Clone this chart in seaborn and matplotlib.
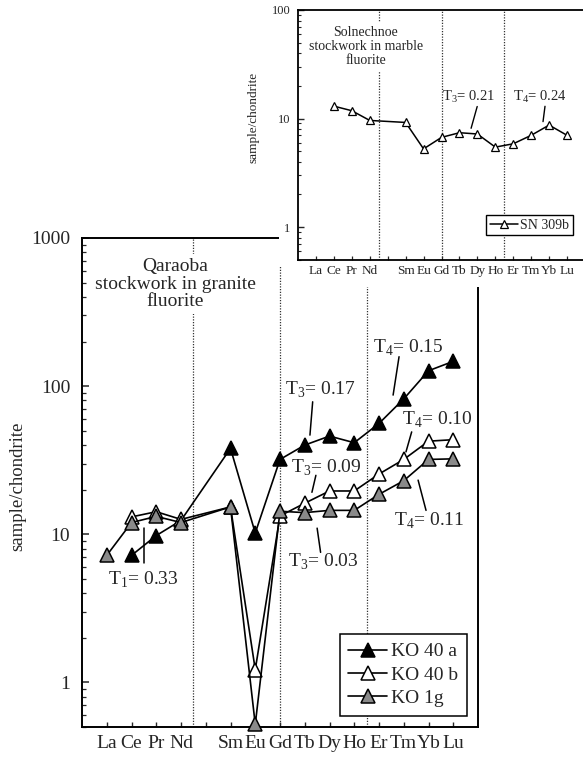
import numpy as np
import pandas as pd
import matplotlib
matplotlib.use("Agg")
import matplotlib.pyplot as plt
import seaborn as sns
from matplotlib.patches import Rectangle

# ---------------- data ----------------
elements = ["La", "Ce", "Pr", "Nd", "Sm", "Eu", "Gd", "Tb", "Dy", "Ho", "Er", "Tm", "Yb", "Lu"]
positions = [1, 2, 3, 4, 6, 7, 8, 9, 10, 11, 12, 13, 14, 15]
tick_positions = list(range(1, 16))
tick_labels = ["La", "Ce", "Pr", "Nd", "", "Sm", "Eu", "Gd", "Tb", "Dy", "Ho", "Er", "Tm", "Yb", "Lu"]

ko40a = [np.nan, 7.2, 9.8, 12.4, 38.0, 10.2, 32.0, 40.0, 46.0, 41.5, 56.0, 82.0, 127.0, 147.0]
ko40b = [np.nan, 13.1, 14.2, 12.6, 15.3, 1.22, 13.3, 16.2, 19.6, 19.6, 25.5, 32.0, 42.5, 43.5]
ko1g = [7.2, 12.0, 13.2, 12.0, 15.3, 0.52, 14.3, 14.0, 14.5, 14.5, 18.6, 23.0, 32.0, 32.3]
sn309b = [np.nan, 13.0, 11.8, 9.6, 9.2, 5.25, 6.7, 7.4, 7.2, 5.45, 5.85, 7.0, 8.7, 7.0]

divider_positions = [4.5, 8, 11.5]

main_series = [
    ("KO 40 a", ko40a, "black"),
    ("KO 40 b", ko40b, "white"),
    ("KO 1g", ko1g, "#8a8a8a"),
]

# annotations: (text, text_x, text_y, line_x0, line_y0, line_x1, line_y1)
main_notes = [
    ("T$_\\mathregular{1}$= 0.33", 2.49, 4.9, 2.5, 11.1, 2.5, 6.4),
    ("T$_\\mathregular{3}$= 0.03", 9.76, 6.5, 9.5, 11.0, 9.64, 7.55),
    ("T$_\\mathregular{4}$= 0.11", 14.02, 12.4, 13.58, 23.2, 13.9, 14.5),
    ("T$_\\mathregular{3}$= 0.09", 9.89, 27.9, 9.45, 25.0, 9.29, 19.2),
    ("T$_\\mathregular{3}$= 0.17", 9.62, 94.0, 9.32, 78.4, 9.21, 46.7),
    ("T$_\\mathregular{4}$= 0.15", 13.17, 181.0, 12.81, 158.0, 12.57, 87.0),
    ("T$_\\mathregular{4}$= 0.10", 14.36, 58.9, 13.32, 49.1, 13.09, 36.0),
]
inset_notes = [
    ("T$_\\mathregular{3}$= 0.21", 9.53, 15.9, 9.99, 12.9, 9.65, 8.13),
    ("T$_\\mathregular{4}$= 0.24", 13.49, 15.9, 13.77, 12.96, 13.66, 9.36),
]

# ---------------- style ----------------
sns.set_style("ticks")
plt.rcParams["font.family"] = ["Liberation Serif", "DejaVu Serif"]
plt.rcParams["mathtext.fontset"] = "custom"
plt.rcParams["mathtext.rm"] = "Liberation Serif"

W, H = 583, 760
fig = plt.figure(figsize=(W / 100, H / 100), dpi=100)
fig.patch.set_facecolor("white")

def fx(px):
    return px / W

def fy(py):
    return 1 - py / H

# ---------------- main axes ----------------
ax = fig.add_axes([fx(82), fy(727), fx(478) - fx(82), fy(238) - fy(727)])
ax.set_zorder(0)
ax.set_yscale("log")
ax.set_xlim(0, 16)
ax.set_ylim(0.5, 1000)

for xd in divider_positions:
    ax.axvline(xd, color="#333333", lw=0.9, ls=(0, (1, 1.2)), zorder=1)

for name, vals, fc in main_series:
    d = pd.DataFrame({"pos": positions, "val": vals}).dropna()
    sns.lineplot(data=d, x="pos", y="val", ax=ax, color="black", lw=1.2,
                 marker="^", markersize=9.5, markerfacecolor=fc,
                 markeredgecolor="black", markeredgewidth=1.1,
                 label=name, clip_on=False, zorder=3, sort=True)

ax.set_xticks(tick_positions)
ax.set_xticklabels(tick_labels)
ax.set_yticks([1, 10, 100, 1000])
ax.set_yticklabels(["1", "10", "100", "1000"])
ax.tick_params(axis="both", which="both", direction="in", top=False, right=False)
ax.tick_params(axis="y", which="major", length=5, width=1.1, labelsize=14, pad=8.5)
ax.tick_params(axis="y", which="minor", length=3, width=0.9)
ax.tick_params(axis="x", which="major", length=3.5, width=1.0, labelsize=14, pad=6)
ax.set_xlabel("")
ax.set_ylabel("")
for sp in ax.spines.values():
    sp.set_linewidth(1.4)
    sp.set_color("black")

ax.text(3.76, 489, "Qaraoba\nstockwork in granite\nfluorite", ha="center", va="center",
        fontsize=14, linespacing=1.05, zorder=2,
        bbox=dict(facecolor="white", edgecolor="none", pad=3))

for t, tx, ty, x0, y0, x1, y1 in main_notes:
    ax.text(tx, ty, t, ha="center", va="center", fontsize=14, zorder=4)
    ax.plot([x0, x1], [y0, y1], color="black", lw=1.1, zorder=4)

leg = ax.legend(loc="lower right", bbox_to_anchor=(0.972, 0.0224), borderaxespad=0,
                fontsize=14, frameon=True, fancybox=False, edgecolor="black",
                framealpha=1, handlelength=2.0, handletextpad=0.2, labelspacing=0.3,
                borderpad=0.45)
leg.get_frame().set_linewidth(1.1)

fig.text(fx(18), fy(486), "sample/chondrite", rotation=90, ha="center", va="center", fontsize=13.5)

# ---------------- white cover behind inset ----------------
fig.add_artist(Rectangle((fx(279), fy(266)), 1 - fx(279), 1 - fy(266) + 0.01,
                         transform=fig.transFigure, facecolor="white", edgecolor="none", zorder=1))
fig.add_artist(Rectangle((fx(290), fy(287)), 1 - fx(290), 1 - fy(287) + 0.01,
                         transform=fig.transFigure, facecolor="white", edgecolor="none", zorder=1))

# ---------------- inset axes ----------------
ins = fig.add_axes([fx(298), fy(259.7), fx(585) - fx(298), fy(10) - fy(259.7)])
ins.set_zorder(2)
ins.set_yscale("log")
ins.set_xlim(0, 16)
ins.set_ylim(0.5, 100)

for xd in divider_positions:
    ins.axvline(xd, color="#333333", lw=0.9, ls=(0, (1, 1.2)), zorder=1)

d = pd.DataFrame({"pos": positions, "val": sn309b}).dropna()
sns.lineplot(data=d, x="pos", y="val", ax=ins, color="black", lw=1.1,
             marker="^", markersize=6, markerfacecolor="white",
             markeredgecolor="black", markeredgewidth=0.9,
             label="SN 309b", zorder=3, sort=True)

ins.set_xticks(tick_positions)
ins.set_xticklabels(tick_labels)
ins.set_yticks([1, 10, 100])
ins.set_yticklabels(["1", "10", "100"])
ins.tick_params(axis="both", which="both", direction="in", top=False, right=False)
ins.tick_params(axis="y", which="major", length=4, width=1.0, labelsize=9, pad=5.5)
ins.tick_params(axis="y", which="minor", length=2.5, width=0.8)
ins.tick_params(axis="x", which="major", length=3, width=0.9, labelsize=9.5, pad=4)
ins.set_xlabel("")
ins.set_ylabel("")
for sp in ins.spines.values():
    sp.set_linewidth(1.3)
    sp.set_color("black")

ins.text(3.79, 45.9, "Solnechnoe\nstockwork in marble\nfluorite", ha="center", va="center",
         fontsize=10, linespacing=1.08, zorder=2,
         bbox=dict(facecolor="white", edgecolor="none", pad=3))

for t, tx, ty, x0, y0, x1, y1 in inset_notes:
    ins.text(tx, ty, t, ha="center", va="center", fontsize=10.5, zorder=4)
    ins.plot([x0, x1], [y0, y1], color="black", lw=1.0, zorder=4)

leg2 = ins.legend(loc="lower right", bbox_to_anchor=(0.958, 0.099), borderaxespad=0,
                  fontsize=10, frameon=True, fancybox=False, edgecolor="black",
                  framealpha=1, handlelength=2.0, handletextpad=0.2, borderpad=0.25)
leg2.get_frame().set_linewidth(1.0)

fig.text(fx(253), fy(117), "sample/chondrite", rotation=90, ha="center", va="center", fontsize=9.5)

fig.savefig("out.png", dpi=100, facecolor="white")
